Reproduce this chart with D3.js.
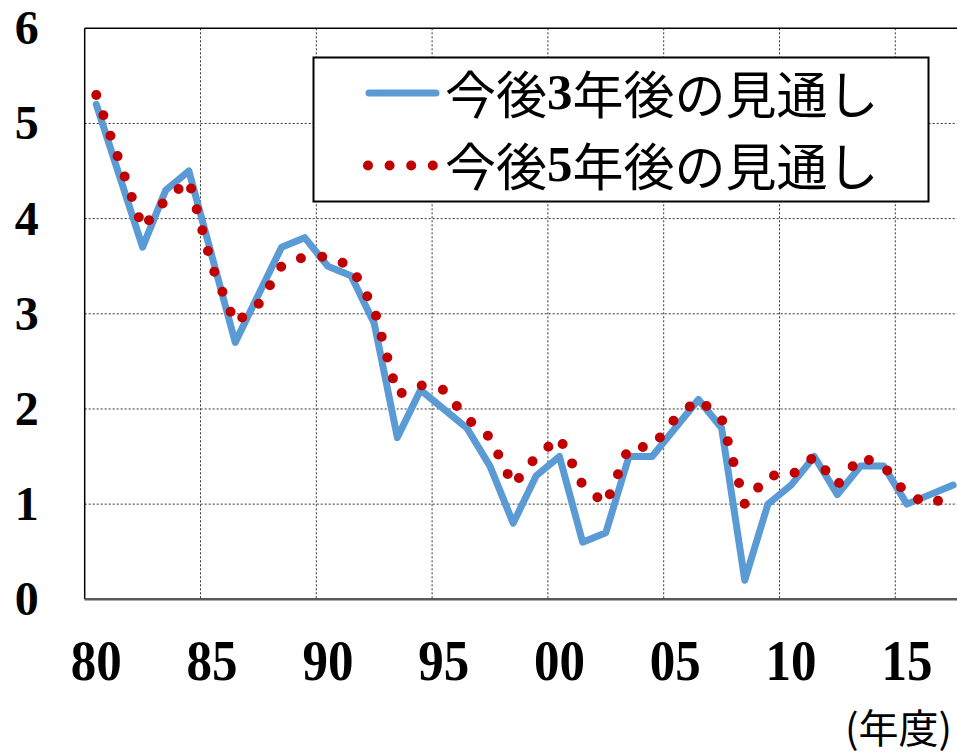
<!DOCTYPE html>
<html>
<head>
<meta charset="utf-8">
<script src="https://cdn.jsdelivr.net/npm/d3@7"></script>
<style>
  html, body { margin: 0; padding: 0; background: #fff; }
  svg { display: block; }
</style>
</head>
<body>
<svg id="chart" width="957" height="755"></svg>
<script>
// ---- data ----
const years = d3.range(1980, 2018);
const outlook3 = [5.2, 4.45, 3.7, 4.3, 4.5, 3.6, 2.7, 3.2, 3.7, 3.8,
                  3.5, 3.4, 2.9, 1.7, 2.2, 2.0, 1.8, 1.4, 0.8, 1.3,
                  1.5, 0.6, 0.7, 1.5, 1.5, 1.8, 2.1, 1.8, 0.2, 1.0,
                  1.2, 1.5, 1.1, 1.4, 1.4, 1.0, 1.1, 1.2];
const outlook5 = [5.3, 4.6, 3.9, 4.2, 4.4, 3.5, 2.9, 3.1, 3.5, 3.6,
                  3.6, 3.5, 3.05, 2.15, 2.25, 2.2, 1.9, 1.7, 1.2, 1.5,
                  1.7, 1.2, 1.0, 1.6, 1.6, 1.9, 2.1, 1.9, 1.0, 1.3,
                  1.3, 1.5, 1.2, 1.5, 1.4, 1.1, 1.0, 1.1];
const xTickYears = [1980, 1985, 1990, 1995, 2000, 2005, 2010, 2015];
const xTickLabels = ["80", "85", "90", "95", "00", "05", "10", "15"];
const yTicks = [0, 1, 2, 3, 4, 5, 6];
const seriesNames = ["今後", "3", "年後の見通し"];
const seriesNames5 = ["今後", "5", "年後の見通し"];
const unitLabel = "(年度)";

(function () {
// ---- layout ----
const svg = d3.select("#chart");
const pL = 84.7, pT = 28.3, pB = 599.3, step = 23.16;
const pR = pL + years.length * step;

const x = d3.scaleBand().domain(years).range([pL, pR]).padding(0);
const xc = d => x(d) + x.bandwidth() / 2;
const y = d3.scaleLinear().domain([0, 6]).range([pB, pT]);

const blue = "#5B9BD5", red = "#C00000";

// gridlines
const grid = svg.append("g");
grid.selectAll("line.h").data(yTicks.filter(v => v > 0 && v < 6)).join("line")
  .attr("x1", pL).attr("x2", 957)
  .attr("y1", d => y(d)).attr("y2", d => y(d))
  .attr("stroke", "#333").attr("stroke-width", 1).attr("stroke-dasharray", "2,2");
grid.selectAll("line.v").data(xTickYears.filter(v => v > 1980)).join("line")
  .attr("x1", d => x(d)).attr("x2", d => x(d))
  .attr("y1", pT).attr("y2", pB)
  .attr("stroke", "#333").attr("stroke-width", 1).attr("stroke-dasharray", "2,2");

// frame
svg.append("line").attr("x1", pL).attr("x2", 957).attr("y1", pT).attr("y2", pT)
  .attr("stroke", "#000").attr("stroke-width", 1.5);
svg.append("line").attr("x1", pL).attr("x2", pL).attr("y1", pT).attr("y2", pB)
  .attr("stroke", "#000").attr("stroke-width", 1.5);
svg.append("line").attr("x1", pL).attr("x2", 957).attr("y1", pB).attr("y2", pB)
  .attr("stroke", "#595959").attr("stroke-width", 2.5);

// axes (labels only)
const yAxis = svg.append("g").attr("transform", `translate(${pL},0)`)
  .call(d3.axisLeft(y).tickValues(yTicks).tickFormat(d3.format("d")).tickSize(0).tickPadding(46));
yAxis.select(".domain").remove();
yAxis.selectAll("text")
  .attr("font-family", "'Liberation Serif','Times New Roman',serif")
  .attr("font-weight", "bold").attr("font-size", 48).attr("fill", "#000");

const xAxis = svg.append("g").attr("transform", `translate(0,${pB})`)
  .call(d3.axisBottom(x).tickValues(xTickYears)
    .tickFormat((d, i) => xTickLabels[i]).tickSize(0).tickPadding(40));
xAxis.select(".domain").remove();
xAxis.selectAll("text")
  .attr("font-family", "'Liberation Serif','Times New Roman',serif")
  .attr("font-weight", "bold").attr("font-size", 57).attr("fill", "#000")
  .attr("textLength", 51).attr("lengthAdjust", "spacingAndGlyphs");

svg.append("text").attr("x", 952).attr("y", 743)
  .attr("text-anchor", "end")
  .attr("font-family", "'Noto Sans CJK JP',sans-serif")
  .attr("font-size", 40).attr("fill", "#000")
  .text(unitLabel);

// series
const line = d3.line().x((d, i) => xc(years[i])).y(d => y(d));
svg.append("path").datum(outlook3)
  .attr("d", line).attr("fill", "none")
  .attr("stroke", blue).attr("stroke-width", 7)
  .attr("stroke-linejoin", "round").attr("stroke-linecap", "round");
svg.append("path").datum(outlook5)
  .attr("d", line).attr("fill", "none")
  .attr("stroke", red).attr("stroke-width", 10)
  .attr("stroke-dasharray", "0,21.6").attr("stroke-linecap", "round")
  .attr("stroke-linejoin", "round");

// legend
const lg = svg.append("g");
lg.append("rect").attr("x", 313.5).attr("y", 57.5).attr("width", 615).attr("height", 144)
  .attr("fill", "#fff").attr("stroke", "#000").attr("stroke-width", 2);
lg.append("line").attr("x1", 369).attr("x2", 436).attr("y1", 93).attr("y2", 93)
  .attr("stroke", blue).attr("stroke-width", 7).attr("stroke-linecap", "round");
lg.append("line").attr("x1", 368).attr("x2", 436).attr("y1", 165.5).attr("y2", 165.5)
  .attr("stroke", red).attr("stroke-width", 10)
  .attr("stroke-dasharray", "0,21.6").attr("stroke-linecap", "round");

function legendText(parts, yy) {
  const t = lg.append("text").attr("x", 445).attr("y", yy)
    .attr("dominant-baseline", "central")
    .attr("font-family", "'Noto Sans CJK JP',sans-serif")
    .attr("font-size", 51).attr("fill", "#000");
  t.append("tspan").text(parts[0]);
  t.append("tspan").attr("font-family", "'Liberation Serif','Times New Roman',serif")
    .attr("font-weight", "bold").text(parts[1]);
  t.append("tspan").text(parts[2]);
}
legendText(seriesNames, 92);
legendText(seriesNames5, 164);
})();
</script>
</body>
</html>
